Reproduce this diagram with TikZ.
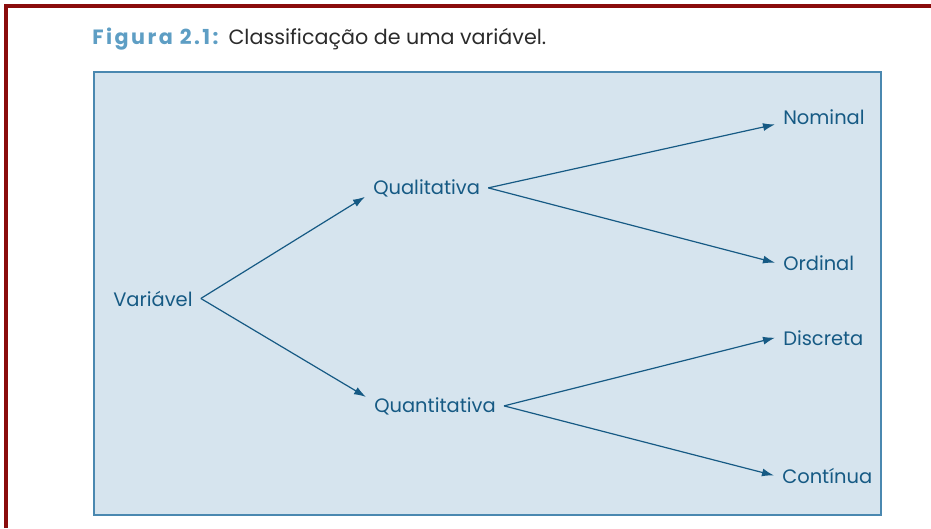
\documentclass[tikz,border=0pt]{standalone}
\usepackage{fontspec}
\setmainfont{Poppins}
\usetikzlibrary{arrows.meta}
\definecolor{frameRed}{HTML}{8A0C0C}
\definecolor{boxFill}{HTML}{D6E4EE}
\definecolor{boxLine}{HTML}{4A88B0}
\definecolor{txtBlue}{HTML}{165A84}
\definecolor{figBlue}{HTML}{5E9EC4}
\definecolor{capGray}{HTML}{2B2B2B}
\begin{document}
\begin{tikzpicture}[x=0.75pt,y=-0.75pt,
    lbl/.style={anchor=base west, inner xsep=6pt, inner ysep=0pt, text=txtBlue, font=\fontsize{14.6}{16}\selectfont},
    link/.style={-{Latex[length=9pt,width=6pt]}, draw=txtBlue, line width=0.9pt}]
    \useasboundingbox (0,0) rectangle (931,528);
    \draw[frameRed, line width=2.4pt] (6,528) -- (6,6) -- (931,6);
    \node[anchor=base west, inner sep=0pt, font=\fontsize{15.5}{17}\selectfont] (title) at (92,45)
        {\textcolor{figBlue}{\addfontfeature{LetterSpace=12}\bfseries Figura 2.1:}\hspace{2pt} \textcolor{capGray}{Classificação de uma variável.}};
    \draw[fill=boxFill, draw=boxLine, line width=1.5pt] (94,72) rectangle (881,515);
    % nodes
    \node[lbl] (var) at (105,306) {Variável};
    \node[lbl] (qual) at (365,194) {Qualitativa};
    \node[lbl] (quant) at (366,412) {Quantitativa};
    \node[lbl] (nom) at (775,124) {Nominal};
    \node[lbl] (ord) at (775,270) {Ordinal};
    \node[lbl] (disc) at (775,345) {Discreta};
    \node[lbl] (cont) at (774,483) {Contínua};
    % links
    \draw[link] (var.east) -- (qual.south west);
    \draw[link] (var.east) -- (quant.north west);
    \draw[link] (qual.east) -- (nom.south west);
    \draw[link] (qual.east) -- (ord.west);
    \draw[link] (quant.east) -- (disc.west);
    \draw[link] (quant.east) -- (cont.west);
\end{tikzpicture}
\end{document}
